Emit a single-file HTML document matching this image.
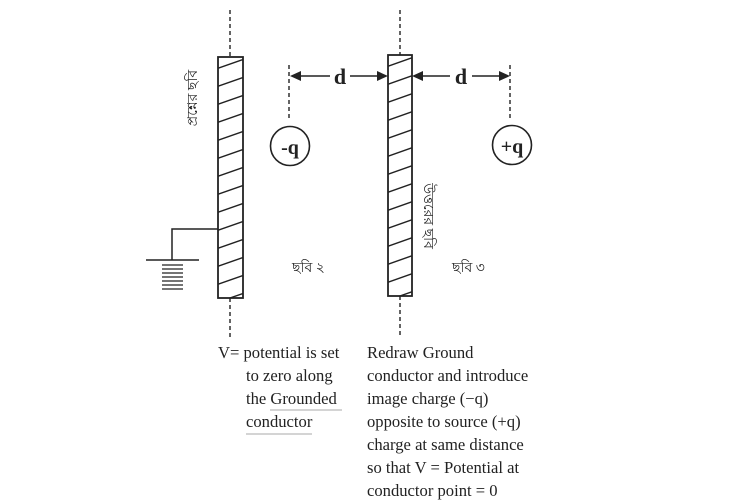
<!DOCTYPE html>
<html><head><meta charset="utf-8"><style>
html,body{margin:0;padding:0;background:#fff;}
svg{display:block;}
.b{font-family:"Liberation Serif",serif;font-weight:bold;}
.t{font-family:"Liberation Serif",serif;font-size:16.6px;fill:#222;}
.bn{font-family:"Liberation Serif","Noto Serif CJK SC",sans-serif;font-size:14px;fill:#222;}
</style></head><body>
<svg width="750" height="500" viewBox="0 0 750 500" xmlns="http://www.w3.org/2000/svg">
<defs>
<clipPath id="c1"><rect x="218" y="57" width="25" height="241"/></clipPath>
<clipPath id="c2"><rect x="388" y="55" width="24" height="241"/></clipPath>
</defs>
<g stroke="#222" stroke-width="1.4" fill="none">
<line x1="230" y1="10" x2="230" y2="57" stroke-dasharray="4,3"/>
<line x1="230" y1="298" x2="230" y2="337" stroke-dasharray="4,3"/>
<line x1="400" y1="10" x2="400" y2="55" stroke-dasharray="4,3"/>
<line x1="400" y1="296" x2="400" y2="337" stroke-dasharray="4,3"/>
<line x1="289" y1="65" x2="289" y2="118" stroke-dasharray="4,3"/>
<line x1="510" y1="65" x2="510" y2="118" stroke-dasharray="4,3"/>
<g clip-path="url(#c1)">
<path d="M210 71 L250 57 M210 89 L250 75 M210 107 L250 93 M210 125 L250 111 M210 143 L250 129 M210 161 L250 147 M210 179 L250 165 M210 197 L250 183 M210 215 L250 201 M210 233 L250 219 M210 251 L250 237 M210 269 L250 255 M210 287 L250 273 M210 305 L250 291"/>
</g>
<rect x="218" y="57" width="25" height="241" stroke-width="1.8"/>
<g clip-path="url(#c2)">
<path d="M380 69 L420 55 M380 87 L420 73 M380 105 L420 91 M380 123 L420 109 M380 141 L420 127 M380 159 L420 145 M380 177 L420 163 M380 195 L420 181 M380 213 L420 199 M380 231 L420 217 M380 249 L420 235 M380 267 L420 253 M380 285 L420 271 M380 303 L420 289"/>
</g>
<rect x="388" y="55" width="24" height="241" stroke-width="1.8"/>
<polyline points="218,229 172,229 172,260" stroke-width="1.5"/>
<line x1="146" y1="260" x2="199" y2="260" stroke-width="1.5"/>
<g stroke-width="1.3">
<line x1="162" y1="265" x2="183" y2="265"/><line x1="162" y1="269" x2="183" y2="269"/>
<line x1="162" y1="273" x2="183" y2="273"/><line x1="162" y1="277" x2="183" y2="277"/>
<line x1="162" y1="281" x2="183" y2="281"/><line x1="162" y1="285" x2="183" y2="285"/>
<line x1="162" y1="289" x2="183" y2="289"/>
</g>
<circle cx="290" cy="146" r="19.5" stroke-width="1.6"/>
<circle cx="512" cy="145" r="19.5" stroke-width="1.6"/>
<line x1="292" y1="76" x2="330" y2="76" stroke-width="1.6"/>
<line x1="350" y1="76" x2="385" y2="76" stroke-width="1.6"/>
<line x1="415" y1="76" x2="450" y2="76" stroke-width="1.6"/>
<line x1="472" y1="76" x2="507" y2="76" stroke-width="1.6"/>
</g>
<g fill="#222">
<polygon points="290,76 301,71 301,81"/>
<polygon points="388,76 377,71 377,81"/>
<polygon points="412,76 423,71 423,81"/>
<polygon points="510,76 499,71 499,81"/>
</g>
<text x="340" y="84" class="b" font-size="22" text-anchor="middle" fill="#222">d</text>
<text x="461" y="84" class="b" font-size="22" text-anchor="middle" fill="#222">d</text>
<text x="290" y="154" class="b" font-size="20" text-anchor="middle" fill="#222">-q</text>
<text x="512" y="153" class="b" font-size="20" text-anchor="middle" fill="#222">+q</text>
<text class="bn" transform="translate(197,98) rotate(-90)" text-anchor="middle">প্রশ্নের ছবি</text>
<text class="bn" transform="translate(424,216) rotate(90)" text-anchor="middle">উত্তরের ছবি</text>
<text class="bn" x="292" y="272">ছবি ২</text>
<text class="bn" x="452" y="272">ছবি ৩</text>
<g class="t">
<text x="218" y="358">V= potential is set</text>
<text x="246" y="381">to zero along</text>
<text x="246" y="404">the Grounded</text>
<text x="246" y="427">conductor</text>
<text x="367" y="358">Redraw Ground</text>
<text x="367" y="381">conductor and introduce</text>
<text x="367" y="404">image charge (−q)</text>
<text x="367" y="427">opposite to source (+q)</text>
<text x="367" y="450">charge at same distance</text>
<text x="367" y="473">so that V = Potential at</text>
<text x="367" y="496">conductor point = 0</text>
</g>
<line x1="270" y1="410" x2="342" y2="410" stroke="#aaa" stroke-width="1"/>
<line x1="246" y1="434" x2="312" y2="434" stroke="#aaa" stroke-width="1"/>
</svg>
</body></html>
